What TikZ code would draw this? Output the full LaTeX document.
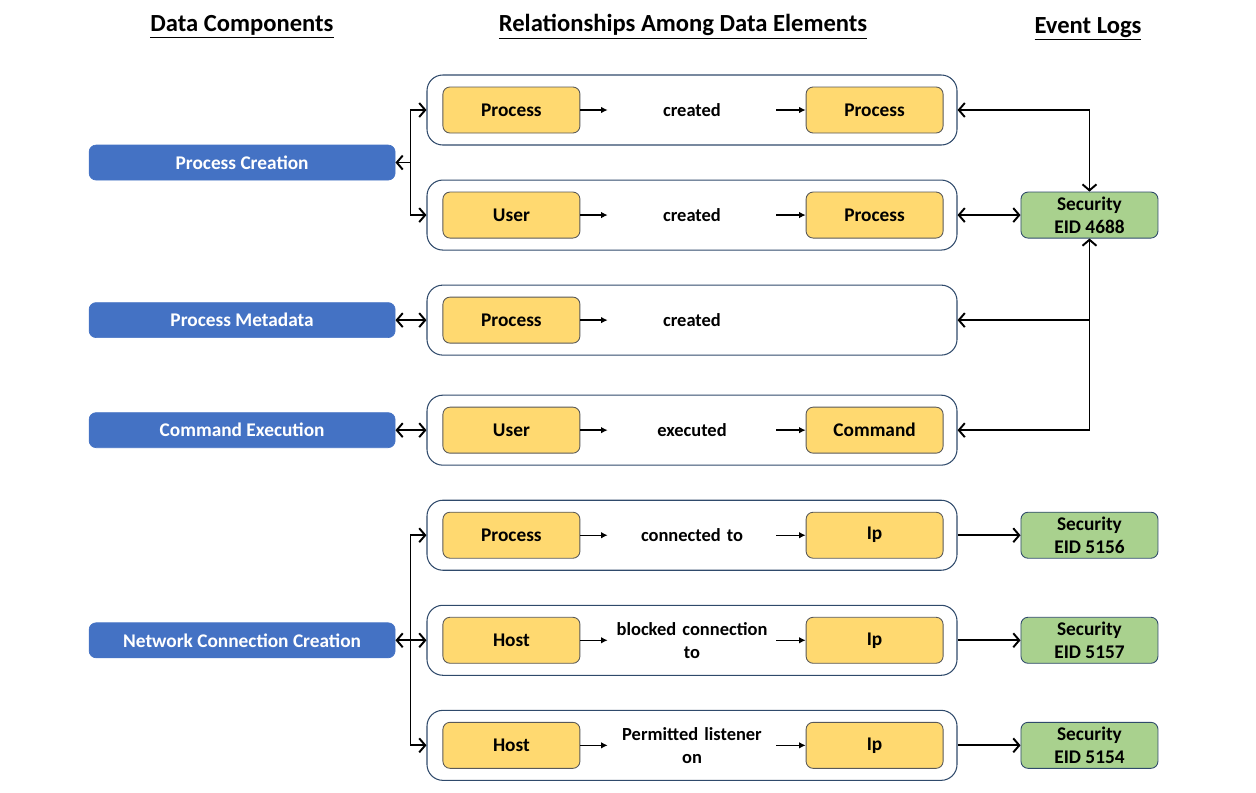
\documentclass[tikz,border=0pt]{standalone}
\usepackage{fontspec}
\setmainfont{Carlito}
\usetikzlibrary{arrows.meta,positioning,calc}
\definecolor{compblue}{HTML}{4472C4}
\definecolor{elemfill}{HTML}{FFD970}
\definecolor{logfill}{HTML}{A9D18E}
\definecolor{framec}{HTML}{2F4A6B}

\begin{document}
\begin{tikzpicture}[
  node distance=0.68cm,
  head/.style={font=\fontsize{14}{17}\selectfont\bfseries},
  comp/.style={rectangle, rounded corners=4pt, fill=compblue, draw=compblue, text=white, minimum width=6.12cm, minimum height=0.7cm, font=\fontsize{11}{13}\selectfont\bfseries},
  relbox/.style={rectangle, rounded corners=9pt, draw=framec, line width=0.6pt, minimum width=10.6cm, minimum height=1.4cm},
  elem/.style={rectangle, rounded corners=4pt, fill=elemfill, draw=black!65, line width=0.5pt, minimum width=2.74cm, minimum height=0.92cm, font=\fontsize{11}{13}\selectfont\bfseries},
  verb/.style={align=center, text width=3.36cm, inner xsep=0pt, font=\fontsize{10.5}{13}\selectfont\bfseries},
  evlog/.style={rectangle, rounded corners=4pt, fill=logfill, draw=framec, line width=0.5pt, minimum width=2.74cm, minimum height=0.92cm, inner sep=1pt, align=center, font=\fontsize{11}{13}\selectfont\bfseries},
  link/.style={-{Straight Barb[length=1.2mm,width=2.8mm]}, line width=1.1pt},
  biline/.style={{Straight Barb[length=1.2mm,width=2.8mm]}-{Straight Barb[length=1.2mm,width=2.8mm]}, line width=1.1pt},
  small/.style={-{Latex[length=1.3mm,width=1.3mm]}, line width=0.8pt}
]
  \useasboundingbox (0,0) rectangle (25.12,-15.84);

  % headers
  \node[head] (hcomp) at (4.84,-0.54) {\underline{Data Components}};
  \node[head] (hrel) at (13.66,-0.54) {\underline{Relationships Among Data Elements}};
  \node[head] (hlog) at (21.76,-0.58) {\underline{Event Logs}};

  % relationship rows
  \node[relbox] (c1) at (13.84,-2.2) {};
  \node[relbox, below=of c1] (c2) {};
  \node[relbox, below=of c2] (c3) {};
  \node[relbox, below=0.78cm of c3] (c4) {};
  \node[relbox, below=of c4] (c5) {};
  \node[relbox, below=of c5] (c6) {};
  \node[relbox, below=of c6] (c7) {};

  \node[elem, right=0.32cm of c1.west] (p1) {Process};
  \node[verb] (v1) at (c1.center) {created};
  \node[elem, left=0.28cm of c1.east] (q1) {Process};

  \node[elem, right=0.32cm of c2.west] (p2) {User};
  \node[verb] (v2) at (c2.center) {created};
  \node[elem, left=0.28cm of c2.east] (q2) {Process};

  \node[elem, right=0.32cm of c3.west] (p3) {Process};
  \node[verb] (v3) at (c3.center) {created};

  \node[elem, right=0.32cm of c4.west] (p4) {User};
  \node[verb] (v4) at (c4.center) {executed};
  \node[elem, left=0.28cm of c4.east] (q4) {Command};

  \node[elem, right=0.32cm of c5.west] (p5) {Process};
  \node[verb] (v5) at (c5.center) {connected to};
  \node[elem, left=0.28cm of c5.east] (q5) {Ip};

  \node[elem, right=0.32cm of c6.west] (p6) {Host};
  \node[verb] (v6) at (c6.center) {blocked connection\\to};
  \node[elem, left=0.28cm of c6.east] (q6) {Ip};

  \node[elem, right=0.32cm of c7.west] (p7) {Host};
  \node[verb] (v7) at (c7.center) {Permitted listener\\on};
  \node[elem, left=0.28cm of c7.east] (q7) {Ip};

  \foreach \i in {1,2,3,4,5,6,7} {
    \draw[small] (p\i.east) -- (v\i.west);
  }
  \foreach \i in {1,2,4,5,6,7} {
    \draw[small] (v\i.east) -- (q\i.west);
  }

  % data components
  \coordinate (jtop) at ($(c1.west)!0.5!(c2.west)+(-0.32,0)$);
  \coordinate (jbot) at ($(c6.west)+(-0.32,0)$);
  \node[comp, left=0.62cm of {$(c1.west)!0.5!(c2.west)$}] (pcre) {Process Creation};
  \node[comp, left=0.62cm of c3.west] (pmeta) {Process Metadata};
  \node[comp, left=0.62cm of c4.west] (cexe) {Command Execution};
  \node[comp, left=0.62cm of c6.west] (ncc) {Network Connection Creation};

  % event logs
  \node[evlog, right=1.26cm of c2.east] (eid4688) {Security\\EID 4688};
  \node[evlog, right=1.26cm of c5.east] (eid5156) {Security\\EID 5156};
  \node[evlog, right=1.26cm of c6.east] (eid5157) {Security\\EID 5157};
  \node[evlog, right=1.26cm of c7.east] (eid5154) {Security\\EID 5154};

  % left connectors
  \draw[link] (jtop) -- (pcre.east);
  \draw[link] (jtop) |- (c1.west);
  \draw[link] (jtop) |- (c2.west);
  \draw[biline] (pmeta.east) -- (c3.west);
  \draw[biline] (cexe.east) -- (c4.west);
  \draw[biline] (ncc.east) -- (c6.west);
  \draw[link] (jbot) |- (c5.west);
  \draw[link] (jbot) |- (c7.west);

  % right connectors
  \coordinate (jright) at (eid4688.south |- c3.east);
  \draw[biline] (c1.east) -| (eid4688.north);
  \draw[biline] (c2.east) -- (eid4688.west);
  \draw[biline] (c4.east) -| (eid4688.south);
  \draw[link] (jright) -- (c3.east);
  \draw[link] (c5.east) -- (eid5156.west);
  \draw[link] (c6.east) -- (eid5157.west);
  \draw[link] (c7.east) -- (eid5154.west);
\end{tikzpicture}
\end{document}
